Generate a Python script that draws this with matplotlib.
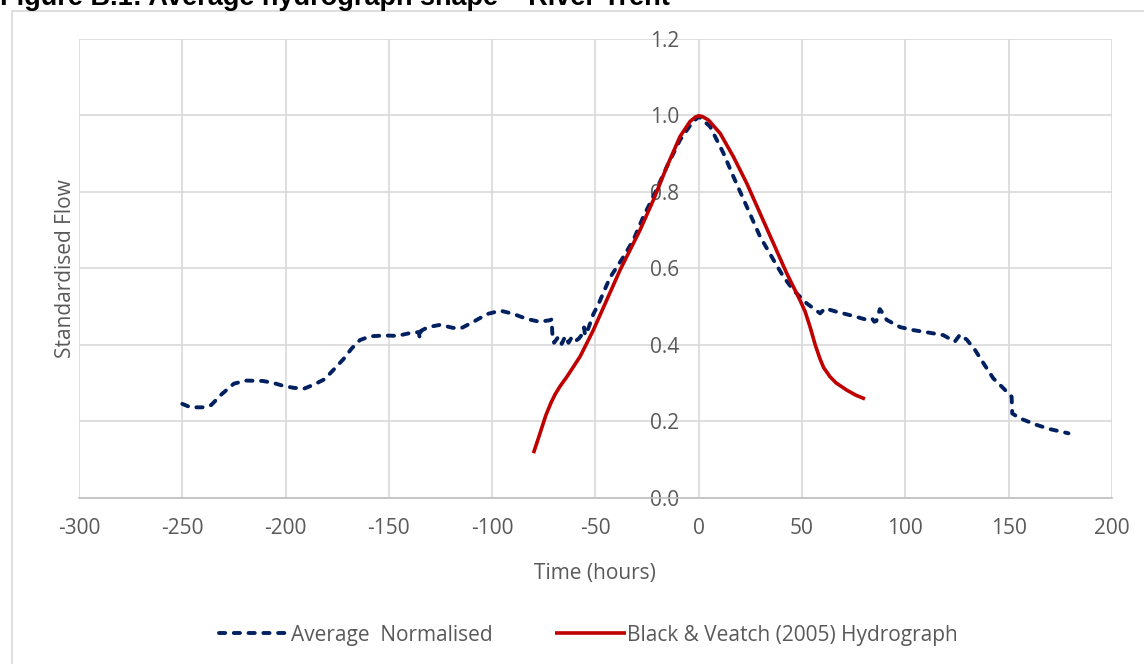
import matplotlib.pyplot as plt
from matplotlib.patches import Rectangle

# Average normalised hydrograph (River Trent)
avg_t = [-250, -246, -240, -236, -231, -225, -219, -211, -206, -201, -196, -191,
         -186, -181, -177, -172, -168, -164, -159, -152, -146, -140, -135.5, -135,
         -134.5, -131, -125, -119, -115, -109, -102.5, -96, -90, -83, -77, -72,
         -71.2, -70.8, -70, -68, -66.3, -64.6, -63, -61.4, -59.5, -58, -56, -55.5,
         -55, -53.4, -51, -48.6, -43, -36.4, -31.6, -26.8, -22, -15.4, -9, -3.3,
         0, 5.5, 12, 16.8, 23.3, 29.7, 36.2, 41, 45.8, 52.3, 58.8, 61.2, 66.8,
         74.9, 81.4, 84, 85, 86, 87.7, 89.4, 91, 97.5, 104, 112, 118.4, 124, 126.5,
         129.8, 133.8, 137.8, 142.6, 147.5, 151.5, 151.8, 155.6, 163.6, 170, 179]
avg_flow = [0.245, 0.236, 0.236, 0.242, 0.270, 0.298, 0.306, 0.305, 0.300, 0.292,
            0.287, 0.285, 0.296, 0.310, 0.333, 0.362, 0.390, 0.412, 0.422, 0.424,
            0.423, 0.430, 0.433, 0.416, 0.436, 0.446, 0.452, 0.444, 0.443, 0.460,
            0.480, 0.489, 0.481, 0.467, 0.460, 0.464, 0.466, 0.425, 0.405, 0.420,
            0.402, 0.422, 0.405, 0.420, 0.410, 0.416, 0.430, 0.445, 0.425, 0.443,
            0.480, 0.505, 0.575, 0.630, 0.674, 0.735, 0.787, 0.866, 0.936, 0.980,
            0.997, 0.971, 0.901, 0.840, 0.761, 0.683, 0.622, 0.578, 0.543, 0.508,
            0.482, 0.495, 0.486, 0.475, 0.465, 0.468, 0.460, 0.462, 0.493, 0.480,
            0.465, 0.446, 0.438, 0.431, 0.425, 0.408, 0.426, 0.413, 0.386, 0.352,
            0.312, 0.286, 0.264, 0.220, 0.207, 0.190, 0.179, 0.168]

# Black & Veatch (2005) hydrograph
bv_t = [-80, -77.6, -74, -71.5, -69.5, -67, -63.8, -57.4, -51, -44.5, -38, -28.4,
        -21.9, -15.4, -9, -4.2, -1.5, 0, 1.8, 4.7, 10.4, 16.8, 23.3, 29.7, 36.2,
        42.6, 49, 51.5, 53.9, 56.5, 58.8, 60.5, 63.6, 66.5, 71.7, 76, 80.5]
bv_flow = [0.116, 0.155, 0.215, 0.248, 0.270, 0.292, 0.316, 0.369, 0.438, 0.517,
           0.596, 0.700, 0.779, 0.866, 0.945, 0.984, 0.996, 0.999, 0.997, 0.988,
           0.953, 0.892, 0.822, 0.744, 0.665, 0.587, 0.517, 0.487, 0.447, 0.398,
           0.362, 0.340, 0.316, 0.300, 0.281, 0.268, 0.258]

x_ticks = list(range(-300, 201, 50))
y_ticks = [0.0, 0.2, 0.4, 0.6, 0.8, 1.0, 1.2]

plt.rcParams['font.family'] = ['Open Sans', 'DejaVu Sans']
plt.rcParams['axes.unicode_minus'] = False
grey_text = '#595959'
grid_col = '#d9d9d9'
fs = 15

fig = plt.figure(figsize=(11.44, 6.64), dpi=100)
W, H = 1144, 664

# chart frame border
fig.patches.append(Rectangle((12 / W, -0.1), 1.2, 1 - 11 / H + 0.1, transform=fig.transFigure,
                             fill=False, edgecolor=grid_col, linewidth=1.2))

fig.text(0.0, 1 - 5 / H, 'Figure B.1: Average hydrograph shape \u2013 River Trent',
         family='Liberation Sans', fontweight='bold', fontsize=19.5, va='baseline', ha='left')

ax = fig.add_axes([79 / W, 1 - 497.5 / H, (1111.8 - 79) / W, (497.5 - 39) / H])

ax.plot(avg_t, avg_flow, color='#002060', linewidth=2.8, linestyle=(0, (1.6, 2.2)),
        dash_capstyle='round', dash_joinstyle='round', label='Average  Normalised')
ax.plot(bv_t, bv_flow, color='#c00000', linewidth=2.6, solid_joinstyle='round',
        solid_capstyle='butt', label='Black & Veatch (2005) Hydrograph')

ax.set_xlim(-300, 200)
ax.set_ylim(0, 1.2)
ax.set_xticks(x_ticks)
ax.set_yticks(y_ticks)
ax.set_yticklabels([f'{v:.1f}' for v in y_ticks])
ax.grid(True, color=grid_col, linewidth=1.2)
ax.set_axisbelow(True)

for s in ['top', 'right']:
    ax.spines[s].set_visible(False)
ax.spines['left'].set_position(('data', 0))
ax.spines['left'].set_visible(False)
ax.spines['bottom'].set_color('#bfbfbf')
ax.spines['bottom'].set_linewidth(1.2)
ax.tick_params(axis='both', length=0, labelsize=fs, labelcolor=grey_text)
ax.tick_params(axis='x', pad=15)
ax.tick_params(axis='y', pad=14)

ax.set_xlabel('Time (hours)', fontsize=fs, color=grey_text, labelpad=17)
ax.set_ylabel('Standardised Flow', fontsize=fs, color=grey_text)
ax.yaxis.set_label_coords(-0.003, 0.5)

ax.legend(loc='center', bbox_to_anchor=(588 / W, 1 - 635 / H), bbox_transform=fig.transFigure,
          ncol=2, frameon=False, fontsize=fs, labelcolor=grey_text, handlelength=3.4,
          handletextpad=0.05, columnspacing=3.0)

fig.savefig('out.png', dpi=100)
